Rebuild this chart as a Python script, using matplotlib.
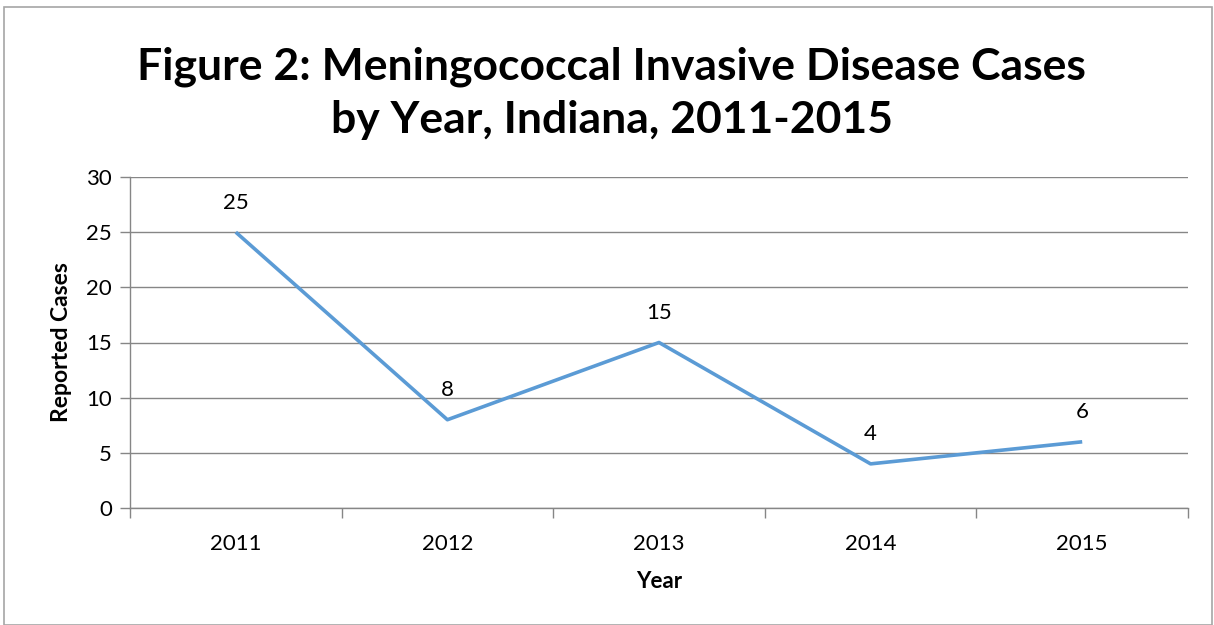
import matplotlib
matplotlib.use("Agg")
import matplotlib.pyplot as plt
from matplotlib.patches import Rectangle

years = ["2011", "2012", "2013", "2014", "2015"]
cases = [25, 8, 15, 4, 6]
y_ticks = [0, 5, 10, 15, 20, 25, 30]

plt.rcParams["font.family"] = ["Lato", "DejaVu Sans"]

fig = plt.figure(figsize=(12.14, 6.25), dpi=100)
fig.patches.append(Rectangle((4 / 1214, 0), 1208 / 1214, 1 - 7 / 625,
                             transform=fig.transFigure, fill=False,
                             edgecolor="#a6a6a6", linewidth=1.2))

ax = fig.add_axes([130 / 1214, 1 - 508 / 625, 1058 / 1214, 331 / 625])
x = list(range(len(years)))
ax.plot(x, cases, color="#5b9bd5", linewidth=2.6, solid_capstyle="butt")
for xi, v in zip(x, cases):
    ax.annotate(str(v), (xi, v), xytext=(0, 14), textcoords="offset points",
                ha="center", va="bottom", fontsize=16, color="black")

ax.set_xlim(-0.5, len(years) - 0.5)
ax.set_ylim(0, 30)
ax.set_yticks(y_ticks)
ax.set_xticks([i - 0.5 for i in range(len(years) + 1)])
ax.set_xticklabels([])
ax.set_xticks(x, minor=True)
ax.set_xticklabels(years, minor=True)
ax.tick_params(axis="x", which="minor", length=0, pad=19, labelsize=16)
ax.tick_params(axis="x", which="major", length=7, color="#868686", width=1)
ax.tick_params(axis="y", length=7, color="#868686", width=1, labelsize=16, pad=6)
ax.yaxis.grid(True, color="#868686", linewidth=1)
ax.set_axisbelow(True)
for side in ["top", "right"]:
    ax.spines[side].set_visible(False)
for side in ["left", "bottom"]:
    ax.spines[side].set_color("#868686")
    ax.spines[side].set_linewidth(1)

ax.set_xlabel("Year", fontsize=16, fontweight="bold", labelpad=12)
ax.set_ylabel("Reported Cases", fontsize=16.5, fontweight="bold", labelpad=10)

fig.text(0.504, 1 - 93 / 625,
         "Figure 2: Meningococcal Invasive Disease Cases\nby Year, Indiana, 2011-2015",
         ha="center", va="center", fontsize=32, fontweight="bold",
         linespacing=1.38)

fig.savefig("out.png", dpi=100)
